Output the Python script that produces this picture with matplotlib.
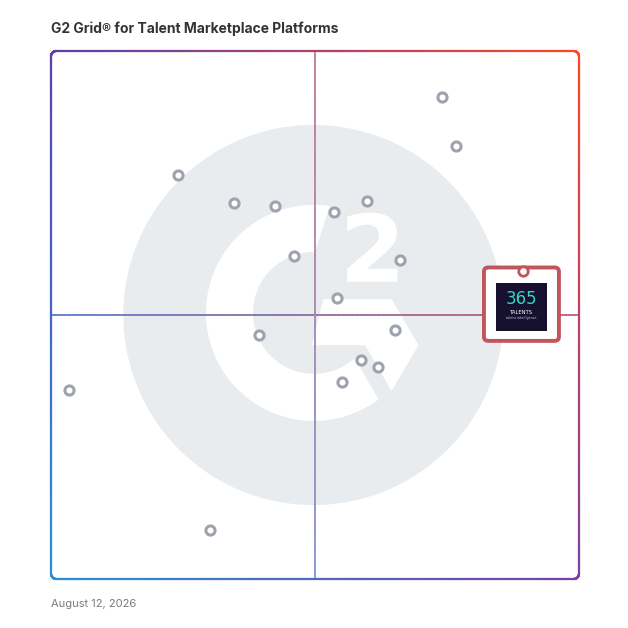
import numpy as np
import matplotlib.pyplot as plt
from matplotlib.collections import LineCollection
from matplotlib.patches import Circle, Polygon, FancyBboxPatch, PathPatch
from matplotlib.textpath import TextPath
from matplotlib.font_manager import FontProperties
from matplotlib.colors import to_rgb
import matplotlib.transforms as mtransforms

# grid positions (0-100 on both axes: satisfaction x, market presence y)
vendor_x = [74.1, 76.7, 24.1, 34.7, 42.4, 53.6, 59.9, 46.0, 66.1, 54.2, 65.2, 39.4, 58.7, 61.9, 55.1, 3.4, 30.1]
vendor_y = [91.3, 82.0, 76.5, 71.2, 70.6, 69.5, 71.6, 61.2, 60.4, 53.2, 47.2, 46.2, 41.5, 40.2, 37.3, 35.8, 9.3]
featured_name = '365 TALENTS'
featured_x = 89.4
featured_y = 58.4

title = 'G2 Grid® for Talent Marketplace Platforms'
date_label = 'August 12, 2026'

# corner colours of the gradient frame
c_tl = np.array(to_rgb('#5a3fb0'))
c_tr = np.array(to_rgb('#ff4628'))
c_br = np.array(to_rgb('#7b3fa0'))
c_bl = np.array(to_rgb('#2a90d8'))


def field(x, y):
    u = np.clip(x / 100.0, 0, 1)
    v = np.clip(y / 100.0, 0, 1)
    top = c_tl * (1 - u) + c_tr * u
    bot = c_bl * (1 - u) + c_br * u
    return bot * (1 - v) + top * v


def gradient_line(ax, xs, ys, lw, fade=1.0, z=3):
    pts = np.column_stack([xs, ys])
    segs = np.stack([pts[:-1], pts[1:]], axis=1)
    mid = (pts[:-1] + pts[1:]) / 2
    # fade towards white instead of using alpha (no overlap artefacts)
    cols = [tuple(1 - fade * (1 - field(mx, my))) for mx, my in mid]
    lc = LineCollection(segs, colors=cols, linewidths=lw, capstyle='round', zorder=z, clip_on=False)
    ax.add_collection(lc)


def rounded_rect(x0, y0, x1, y1, r, n=20):
    pts = []
    corners = [(x1 - r, y1 - r, 0), (x0 + r, y1 - r, 90), (x0 + r, y0 + r, 180), (x1 - r, y0 + r, 270)]
    for cx, cy, a0 in corners:
        a = np.radians(np.linspace(a0, a0 + 90, n))
        pts += list(zip(cx + r * np.cos(a), cy + r * np.sin(a)))
    pts.append(pts[0])
    pts = np.array(pts)
    # densify straight parts
    out = []
    for p, q in zip(pts[:-1], pts[1:]):
        k = max(2, int(np.hypot(*(q - p)) * 2))
        for t in np.linspace(0, 1, k, endpoint=False):
            out.append(p + (q - p) * t)
    out.append(pts[-1])
    return np.array(out)


fig = plt.figure(figsize=(6.28, 6.28), dpi=100)
ax = fig.add_axes([51 / 628, 49 / 628, 528 / 628, 528 / 628])
ax.set_xlim(0, 100)
ax.set_ylim(0, 100)
ax.axis('off')

# G2 watermark
bg = '#e9ecef'
ax.add_patch(Circle((49.7, 50.0), 36.0, color=bg, zorder=1, lw=0))
cx, cy, R, r = 49.8, 50.4, 20.45, 11.55
outer = np.radians(np.linspace(81.6, 306.7, 120))
inner = np.radians(np.linspace(312.1, 89.0, 120))
ring = np.concatenate([np.column_stack([cx + R * np.cos(outer), cy + R * np.sin(outer)]),
                       np.column_stack([cx + r * np.cos(inner), cy + r * np.sin(inner)])])
ax.add_patch(Polygon(ring, closed=True, color='white', lw=0, zorder=2))
chev = [(51.6, 53.0), (64.5, 53.0), (69.6, 44.3), (64.5, 35.6), (59.5, 44.3), (49.4, 44.3)]
ax.add_patch(Polygon(chev, closed=True, color='white', lw=0, zorder=2))
tp = TextPath((0, 0), '2', prop=FontProperties(family='DejaVu Sans', weight='bold'))
ext = tp.get_extents()
sx = 9.5 / ext.width
sy = 13.1 / ext.height
tr = mtransforms.Affine2D().translate(-ext.x0, -ext.y0).scale(sx, sy).translate(56.1, 56.3)
ax.add_patch(PathPatch(tr.transform_path(tp), color='white', lw=0, zorder=2))

# quadrant lines
line = np.linspace(0, 100, 120)
gradient_line(ax, line, np.full_like(line, 50), 1.3, fade=0.85)
gradient_line(ax, np.full_like(line, 50), line, 1.3, fade=0.7)

# frame
fr = rounded_rect(0, 0, 100, 100, 1.0)
gradient_line(ax, fr[:, 0], fr[:, 1], 1.6, z=6)

# vendors
ax.plot(vendor_x, vendor_y, 'o', ms=6.6, mfc='white', mec='#9ea3ae', mew=2.2, zorder=4, ls='none')

# featured product card
red = '#c0565a'
bw, bh = 14.2, 13.9
ax.add_patch(FancyBboxPatch((featured_x - 0.3 - bw / 2, featured_y + 0.6 - bh), bw, bh,
                            boxstyle='round,pad=0,rounding_size=0.8', fc='white', ec=red, lw=2.8, zorder=5))
ax.add_patch(FancyBboxPatch((featured_x - 0.3 - 4.9, featured_y - 11.5), 9.8, 9.2,
                            boxstyle='square,pad=0', fc='#15112e', ec='none', zorder=6))
ax.plot([featured_x], [featured_y], 'o', ms=6.8, mfc='white', mec=red, mew=2.0, zorder=7)
ax.text(featured_x - 0.3, featured_y - 5.3, '365', ha='center', va='center', fontsize=12,
        family='DejaVu Sans', color='#3ad2c4', zorder=7)
ax.text(featured_x - 0.3, featured_y - 7.9, 'TALENTS', ha='center', va='center', fontsize=3.8,
        family='DejaVu Sans', color='white', zorder=7)
ax.text(featured_x - 0.3, featured_y - 9.0, 'talent intelligence', ha='center', va='center', fontsize=2.4,
        family='DejaVu Sans', color='#c8c8d8', zorder=7)

fig.text(51 / 628, 1 - 29 / 628, title, ha='left', va='center', fontsize=10, family='Inter',
         weight='bold', color='#333333')
fig.text(51 / 628, 1 - 604 / 628, date_label, ha='left', va='center', fontsize=8, family='Inter',
         color='#7a7a7a')

fig.savefig('out.png', dpi=100, facecolor='white')
